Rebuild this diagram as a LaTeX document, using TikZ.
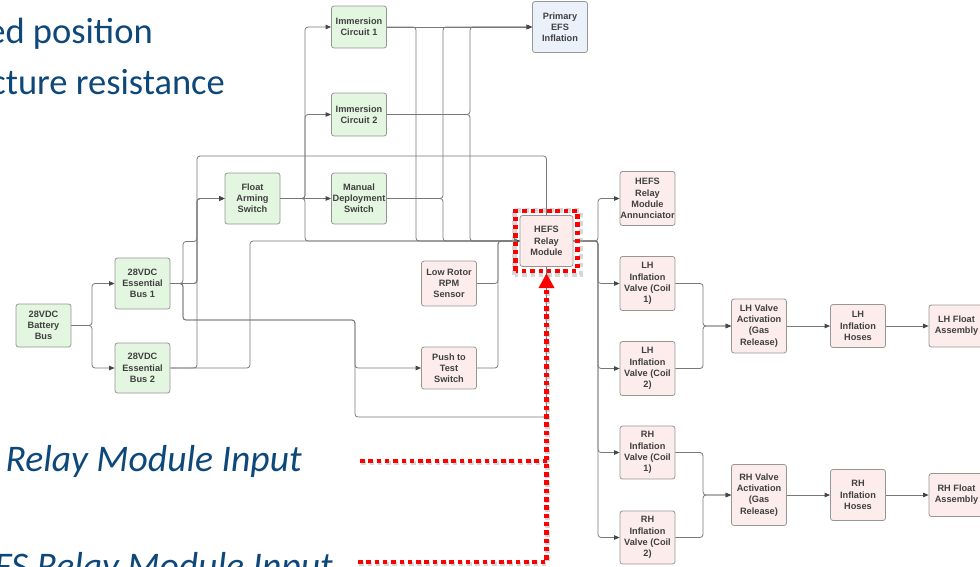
\documentclass[tikz,border=0pt]{standalone}
\usepackage{fontspec}
\setmainfont{Liberation Sans}
\newfontfamily\slidefont{Carlito}
\usetikzlibrary{arrows.meta,fit}

\definecolor{wirec}{RGB}{120,120,120}
\definecolor{arrowc}{RGB}{70,70,70}
\definecolor{boxline}{RGB}{150,150,150}
\definecolor{greenfill}{RGB}{227,246,224}
\definecolor{pinkfill}{RGB}{252,237,236}
\definecolor{bluefill}{RGB}{234,241,251}
\definecolor{boxtext}{RGB}{64,64,64}
\definecolor{slideblue}{RGB}{14,72,122}

\begin{document}
\begin{tikzpicture}[x=1pt,y=-1pt,
  blk/.style={draw=boxline, line width=0.8pt, rounded corners=2.5pt, minimum width=55pt,
    align=center, inner sep=0pt, font=\bfseries\fontsize{9.2}{11.2}\selectfont, text=boxtext},
  gbox/.style={blk, fill=greenfill},
  pbox/.style={blk, fill=pinkfill},
  bbox/.style={blk, fill=bluefill},
  wire/.style={draw=wirec, line width=0.8pt, rounded corners=3pt},
  arr/.style={-{Triangle[length=5.5pt,width=4.5pt,color=arrowc]}},
  redline/.style={draw=red, line width=4.5pt, dash pattern=on 4.5pt off 3.8pt},
  redshadow/.style={draw=black!35, line width=4.5pt, dash pattern=on 4.5pt off 3.8pt, opacity=0.45},
  slidetext/.style={inner sep=0pt, text=slideblue, font=\slidefont\fontsize{36.5}{40}\selectfont},
  slideital/.style={inner sep=0pt, text=slideblue, font=\slidefont\itshape\fontsize{37.6}{41}\selectfont}
]
\useasboundingbox (0,0) rectangle (980,566);

% slide text (cut off at the left)
\node[slidetext, anchor=base east] (t1) at (153,43) {ed position};
\node[slidetext, anchor=base east] (t2) at (225,94) {cture resistance};
\node[slideital, anchor=base east] (t3) at (302,471.5) {S Relay Module Input};
\node[slideital, anchor=base east] (t4) at (333,578.5) {EFS Relay Module Input};

% nodes
\node[gbox, minimum height=43pt] (bat) at (43.5,325.5) {28VDC\\Battery\\Bus};
\node[gbox, minimum height=51pt] (bus1) at (142.5,283.5) {28VDC\\Essential\\Bus 1};
\node[gbox, minimum height=50pt] (bus2) at (142.5,368) {28VDC\\Essential\\Bus 2};
\node[gbox, minimum height=51pt] (fas) at (252.5,198.5) {Float\\Arming\\Switch};
\node[gbox, minimum height=51pt] (mds) at (359,198.5) {Manual\\Deployment\\Switch};
\node[gbox, minimum height=42pt] (ic1) at (359,27) {Immersion\\Circuit 1};
\node[gbox, minimum height=43pt] (ic2) at (359,114.5) {Immersion\\Circuit 2};
\node[bbox, minimum height=51pt] (pefs) at (560,27) {Primary\\EFS\\Inflation};
\node[pbox, minimum height=45pt] (lrr) at (449,283.5) {Low Rotor\\RPM\\Sensor};
\node[pbox, minimum height=42pt] (ptt) at (449,368) {Push to\\Test\\Switch};
\node[pbox, minimum width=53pt, minimum height=51pt] (hefs) at (546.5,241) {HEFS\\Relay\\Module};
\node[pbox, minimum height=54pt] (ann) at (647.5,198.5) {HEFS\\Relay\\Module\\Annunciator};
\node[pbox, minimum height=54pt] (lh1) at (647.5,283.5) {LH\\Inflation\\Valve (Coil\\1)};
\node[pbox, minimum height=54pt] (lh2) at (647.5,368.5) {LH\\Inflation\\Valve (Coil\\2)};
\node[pbox, minimum height=54pt] (lhva) at (759,326) {LH Valve\\Activation\\(Gas\\Release)};
\node[pbox, minimum height=43pt] (lhh) at (858,326) {LH\\Inflation\\Hoses};
\node[pbox, minimum height=42pt] (lhf) at (956.5,326) {LH Float\\Assembly};
\node[pbox, minimum height=53pt] (rh1) at (647.5,452.5) {RH\\Inflation\\Valve (Coil\\1)};
\node[pbox, minimum height=53pt] (rh2) at (647.5,537.5) {RH\\Inflation\\Valve (Coil\\2)};
\node[pbox, minimum height=61pt] (rhva) at (759,495) {RH Valve\\Activation\\(Gas\\Release)};
\node[pbox, minimum height=51pt] (rhh) at (858,495) {RH\\Inflation\\Hoses};
\node[pbox, minimum height=43pt] (rhf) at (956.5,495) {RH Float\\Assembly};

% battery and buses
\draw[wire,arr] (bat.east) -- (92,325.5) |- (bus1.west);
\draw[wire,arr] (bat.east) -- (92,325.5) |- (bus2.west);
\draw[wire,arr] (bus1.east) -- (197,283.5) |- (fas.west);
\draw[wire,arr] (bus2.east) -- (197,368) |- (fas.west);
\draw[wire,arr] (bus1.east) -- (183,283.5) |- (197,241.5) |- (fas.west);
\draw[wire] (bus1.east) -- (197,283.5) -- (197,156) -| (hefs.north);
\draw[wire,arr] (bus1.east) -- (183,283.5) |- (355,320) |- (ptt.west);
\draw[wire] (bus1.east) -- (183,283.5) |- (355,320) |- (546.5,417) -- (hefs.south);
\draw[wire,arr] (bus2.east) -- (250,368) |- (hefs.west);

% float arming / immersion / manual
\draw[wire,arr] (fas.east) -- (mds.west);
\draw[wire,arr] (fas.east) -- (305,198.5) |- (ic1.west);
\draw[wire,arr] (fas.east) -- (305,198.5) |- (ic2.west);
\draw[wire,arr] (fas.east) -- (305,198.5) |- (hefs.west);
\draw[wire,arr] (ic1.east) -- (pefs.west);
\draw[wire,arr] (ic1.east) -- (416,27) |- (hefs.west);
\draw[wire,arr] (ic2.east) -- (470,114.5) |- (pefs.west);
\draw[wire,arr] (ic2.east) -- (470,114.5) |- (hefs.west);
\draw[wire,arr] (mds.east) -- (443,198.5) |- (pefs.west);
\draw[wire,arr] (mds.east) -- (443,198.5) |- (hefs.west);
\draw[wire,arr] (lrr.east) -- (498,283.5) |- (hefs.west);
\draw[wire,arr] (ptt.east) -- (498,368) |- (hefs.west);

% relay module outputs
\foreach \t in {ann,lh1,lh2,rh1,rh2}
  \draw[wire,arr] (hefs.east) -- (598,241) |- (\t.west);
\draw[wire,arr] (lh1.east) -- (703,283.5) |- (lhva.west);
\draw[wire,arr] (lh2.east) -- (703,368.5) |- (lhva.west);
\draw[wire,arr] (lhva.east) -- (lhh.west);
\draw[wire,arr] (lhh.east) -- (lhf.west);
\draw[wire,arr] (rh1.east) -- (703,452.5) |- (rhva.west);
\draw[wire,arr] (rh2.east) -- (703,537.5) |- (rhva.west);
\draw[wire,arr] (rhva.east) -- (rhh.west);
\draw[wire,arr] (rhh.east) -- (rhf.west);

% red highlight
\node[fit=(hefs), inner sep=4pt, outer sep=2.25pt] (hl) {};
\coordinate (r1) at (360,461);
\coordinate (r2) at (358,562);
\begin{scope}[transform canvas={shift={(1.2pt,-1.8pt)}}]
  \draw[redshadow] (hl.south west) rectangle (hl.north east);
  \draw[redshadow] (r1) -- (r1 -| hl.south);
  \draw[redshadow] (r2) -| (hl.south);
\end{scope}
\draw[redline] ([shift={(2.25,-2.25)}]hl.south west) rectangle ([shift={(-2.25,2.25)}]hl.north east);
\draw[redline] (r1) -- (r1 -| hl.south);
\draw[redline, -{Triangle[length=15pt,width=15pt,color=red]}] (r2) -| (hl.south);
\end{tikzpicture}
\end{document}
